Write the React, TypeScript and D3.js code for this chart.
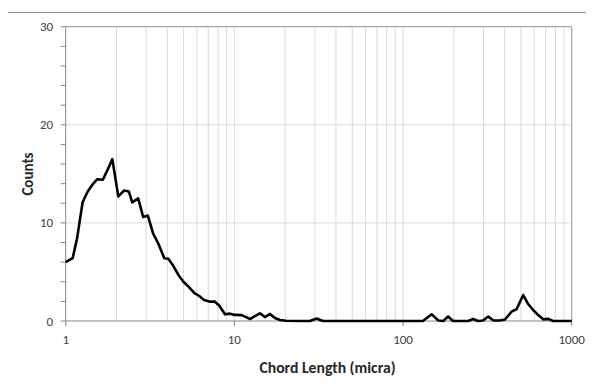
import React from "react";
import * as d3 from "d3";

// Chord length (micra)
const chordLength: number[] = [
  1.0, 1.1, 1.17, 1.26, 1.35, 1.44, 1.54, 1.66, 1.77, 1.89,
  2.05, 2.22, 2.37, 2.48, 2.69, 2.88, 3.07, 3.3, 3.54, 3.84,
  4.06, 4.35, 4.66, 4.99, 5.38, 5.8, 6.19, 6.61, 7.12, 7.67,
  8.1, 8.8, 9.42, 10.08, 11.05, 11.72, 12.37, 13.25, 14.18, 15.18,
  16.25, 17.4, 18.64, 20.2, 24.5, 28.1, 30.7, 33.5, 60, 100,
  131, 148, 162, 173, 185, 198, 243, 261, 278, 298,
  320, 344, 375, 402, 440, 471, 516, 552, 591, 633,
  678, 726, 774, 1000,
];
// Counts
const counts: number[] = [
  6.0, 6.4, 8.5, 12.1, 13.2, 13.9, 14.45, 14.4, 15.4, 16.5,
  12.7, 13.3, 13.2, 12.1, 12.5, 10.6, 10.75, 8.9, 7.9, 6.4,
  6.35, 5.6, 4.7, 4.0, 3.45, 2.85, 2.55, 2.15, 1.98, 1.97,
  1.6, 0.68, 0.75, 0.62, 0.6, 0.4, 0.2, 0.5, 0.78, 0.4,
  0.72, 0.3, 0.1, 0.02, 0, 0, 0.25, 0, 0, 0,
  0, 0.68, 0.05, 0, 0.45, 0, 0, 0.2, 0, 0.05,
  0.45, 0.05, 0.05, 0.15, 0.95, 1.2, 2.65, 1.73, 1.12, 0.6,
  0.17, 0.22, 0, 0,
];
const xTickLabels: string[] = ["1", "10", "100", "1000"];
const yTickLabels: string[] = ["0", "10", "20", "30"];
const xTitle = "Chord Length (micra)";
const yTitle = "Counts";

const W = 594;
const H = 387;
const left = 65.7;
const right = 571.7;
const top = 26.7;
const bottom = 321;

export default function App() {
  const x = d3.scaleLog().domain([1, 1000]).range([left, right]);
  const y = d3.scaleLinear().domain([0, 30]).range([bottom, top]);

  const xMajors = xTickLabels.map(Number);
  const xGrid: number[] = [];
  for (let p = 0; p < 3; p++) {
    for (let m = 1; m <= 9; m++) {
      if (p === 0 && m === 1) continue;
      xGrid.push(m * Math.pow(10, p));
    }
  }
  const yMajors = yTickLabels.map(Number);
  const yMinors = d3.range(0, 31, 2);

  const line = d3
    .line<number>()
    .x((_, i) => x(chordLength[i]))
    .y((d) => y(d));

  const font = "Calibri, Carlito, 'Open Sans', sans-serif";
  const gridColor = "#d9d9d9";
  const axisColor = "#868686";

  return (
    <div style={{ margin: -8, width: W, height: H, overflow: "hidden" }}>
      <svg width={W} height={H} style={{ display: "block", background: "#fff" }}>
        <rect x={7.5} y={12.5} width={700} height={500} fill="#fff" stroke="#8c8c8c" strokeWidth={1} />
        {xGrid.map((v) => (
          <line key={"gx" + v} x1={x(v)} x2={x(v)} y1={top} y2={bottom} stroke={gridColor} strokeWidth={1} />
        ))}
        {yMajors.filter((v) => v > 0 && v < 30).map((v) => (
          <line key={"gy" + v} x1={left} x2={right} y1={y(v)} y2={y(v)} stroke={gridColor} strokeWidth={1} />
        ))}
        <line x1={left} x2={right} y1={top} y2={top} stroke="#a6a6a6" strokeWidth={1.2} />
        <line x1={right} x2={right} y1={top} y2={bottom} stroke="#a6a6a6" strokeWidth={1.2} />
        <line x1={left} x2={left} y1={top} y2={bottom} stroke={axisColor} strokeWidth={1} />
        <line x1={left} x2={right} y1={bottom} y2={bottom} stroke={axisColor} strokeWidth={1} />
        {yMinors.map((v) => (
          <line key={"ty" + v} x1={left - 5} x2={left} y1={y(v)} y2={y(v)} stroke={axisColor} strokeWidth={1} />
        ))}
        {xMajors.map((v) => (
          <line key={"tx" + v} x1={x(v)} x2={x(v)} y1={bottom} y2={bottom + 5} stroke={axisColor} strokeWidth={1} />
        ))}
        {yMajors.map((v, i) => (
          <text key={"ly" + v} x={left - 12.5} y={y(v) + 4.5} textAnchor="end" fontFamily={font} fontSize={13} fill="#404040">
            {yTickLabels[i]}
          </text>
        ))}
        {xMajors.map((v, i) => (
          <text key={"lx" + v} x={x(v)} y={344} textAnchor="middle" fontFamily={font} fontSize={13} fill="#404040">
            {xTickLabels[i]}
          </text>
        ))}
        <path d={line(counts) || ""} fill="none" stroke="#000" strokeWidth={2.6} strokeLinejoin="round" />
        <text x={327.5} y={373} textAnchor="middle" fontFamily={font} fontWeight="bold" fontSize={15.7} fill="#262626">
          {xTitle}
        </text>
        <text transform={`translate(33,174) rotate(-90)`} textAnchor="middle" fontFamily={font} fontWeight="bold" fontSize={15} fill="#262626">
          {yTitle}
        </text>
      </svg>
    </div>
  );
}
